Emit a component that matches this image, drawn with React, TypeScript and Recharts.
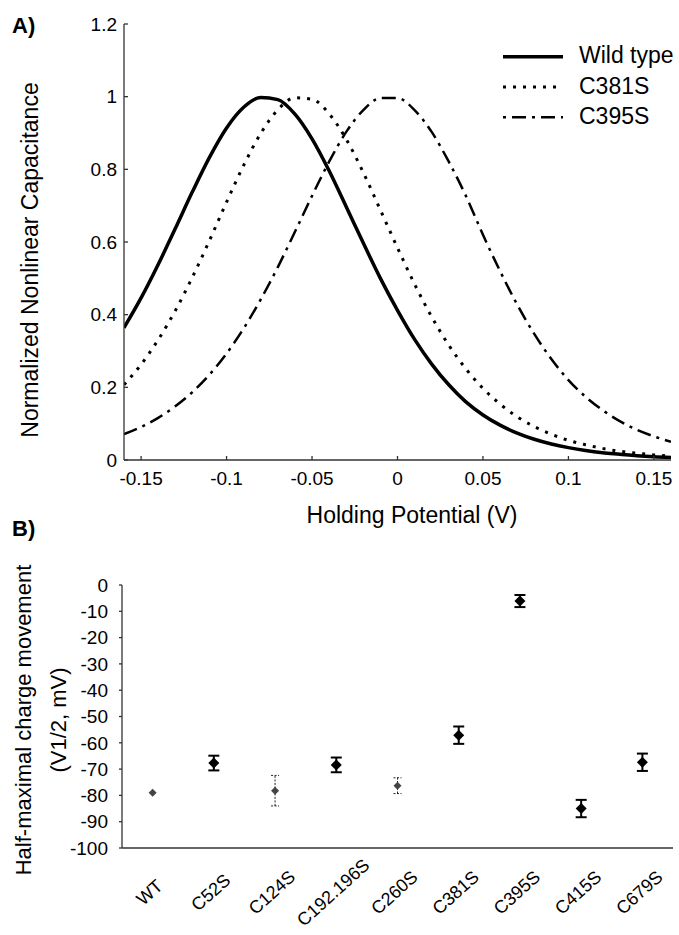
import React from 'react';
import { LineChart, Line, XAxis, YAxis, Legend, ScatterChart, Scatter, ErrorBar } from 'recharts';

const FONT = '"Liberation Sans", Arial, Helvetica, sans-serif';

// ---------- Panel A data ----------
const voltages = [
  -0.16, -0.15, -0.14, -0.13, -0.12, -0.11, -0.1, -0.09, -0.08, -0.07, -0.06,
  -0.05, -0.04, -0.03, -0.02, -0.01, 0, 0.01, 0.02, 0.03, 0.04, 0.05, 0.06,
  0.07, 0.08, 0.09, 0.1, 0.11, 0.12, 0.13, 0.14, 0.15, 0.16,
];
const wildType = [
  0.364, 0.446, 0.538, 0.637, 0.738, 0.833, 0.914, 0.971, 0.998, 0.992, 0.952,
  0.884, 0.796, 0.697, 0.597, 0.5, 0.412, 0.332, 0.264, 0.207, 0.16, 0.124, 0.096,
  0.074, 0.057, 0.044, 0.034, 0.026, 0.02, 0.016, 0.012, 0.009, 0.007,
];
const c381s = [
  0.207, 0.263, 0.331, 0.411, 0.503, 0.604, 0.71, 0.811, 0.899, 0.964, 0.997,
  0.993, 0.953, 0.883, 0.791, 0.688, 0.584, 0.484, 0.394, 0.316, 0.251, 0.197, 0.154,
  0.119, 0.092, 0.071, 0.054, 0.042, 0.032, 0.024, 0.019, 0.014, 0.011,
];
const c395s = [
  0.071, 0.091, 0.116, 0.148, 0.187, 0.235, 0.293, 0.362, 0.442, 0.531, 0.628,
  0.727, 0.821, 0.903, 0.963, 0.996, 0.996, 0.963, 0.903, 0.821, 0.727, 0.62, 0.52,
  0.428, 0.347, 0.278, 0.22, 0.174, 0.137, 0.107, 0.083, 0.065, 0.05,
];
const voltageTicks = [-0.15, -0.1, -0.05, 0, 0.05, 0.1, 0.15];
const capacitanceTicks = [0, 0.2, 0.4, 0.6, 0.8, 1, 1.2];

// ---------- Panel B data ----------
const mutants = ['WT', 'C52S', 'C124S', 'C192.196S', 'C260S', 'C381S', 'C395S', 'C415S', 'C679S'];
const halfActivation = [-79.0, -67.7, -78.2, -68.4, -76.3, -57.1, -6.1, -85.0, -67.4];
const halfActivationErr = [0, 2.8, 5.8, 2.8, 3.0, 3.3, 2.3, 3.3, 3.3];
const halfActivationTicks = [0, -10, -20, -30, -40, -50, -60, -70, -80, -90, -100];

// ---------- styles ----------
const curveSeries = [
  { key: 'wt', name: 'Wild type', width: 3.5, dash: undefined as string | undefined, legendOffset: 0 },
  { key: 'c381', name: 'C381S', width: 3, dash: '3 7', legendOffset: 0 },
  { key: 'c395', name: 'C395S', width: 2.5, dash: '14 6 3 6', legendOffset: 20 },
];
const LIGHT_MARKERS = new Set(['WT', 'C124S', 'C260S']);

const curveTable = voltages.map((v, i) => ({
  v,
  wt: wildType[i],
  c381: c381s[i],
  c395: c395s[i],
}));

const pointTable = mutants.map((name, i) => ({
  idx: i,
  name,
  value: halfActivation[i],
  errBold: LIGHT_MARKERS.has(name) ? 0 : halfActivationErr[i],
  errLight: LIGHT_MARKERS.has(name) ? halfActivationErr[i] : 0,
}));
const categoryTicks = mutants.map((_, i) => i);

// chart B svg starts at this page y
const B_TOP = 500;

const LegendBox = () => (
  <svg width={179} height={100} style={{ overflow: 'visible' }}>
    {curveSeries.map((s, i) => {
      const ly = 16.7 + i * 30.3;
      return (
        <g key={s.key}>
          <line
            x1={3}
            x2={63}
            y1={ly}
            y2={ly}
            stroke="#000"
            strokeWidth={s.width}
            strokeDasharray={s.dash}
            strokeDashoffset={s.legendOffset}
          />
          <text x={79} y={ly + 6.5} fontSize={23} fontFamily={FONT} fill="#000">
            {s.name}
          </text>
        </g>
      );
    })}
  </svg>
);

const AxisTitleAX = () => (
  <text x={412} y={523} textAnchor="middle" fontSize={23} fontFamily={FONT} fill="#000">
    Holding Potential (V)
  </text>
);

const AxisTitleAY = () => (
  <g>
    <text x={12} y={33} fontSize={22} fontWeight="bold" fontFamily={FONT} fill="#000">
      A)
    </text>
    <text
      x={38}
      y={260}
      transform="rotate(-90, 38, 260)"
      textAnchor="middle"
      fontSize={23}
      fontFamily={FONT}
      fill="#000"
    >
      Normalized Nonlinear Capacitance
    </text>
  </g>
);

const AxisTitleBY = () => {
  const cy = 720 - B_TOP;
  return (
    <g>
      <text x={12} y={536 - B_TOP} fontSize={22} fontWeight="bold" fontFamily={FONT} fill="#000">
        B)
      </text>
      <text
        x={31}
        y={cy}
        transform={`rotate(-90, 31, ${cy})`}
        textAnchor="middle"
        fontSize={22}
        fontFamily={FONT}
        fill="#000"
      >
        Half-maximal charge movement
      </text>
      <text
        x={66}
        y={cy}
        transform={`rotate(-90, 66, ${cy})`}
        textAnchor="middle"
        fontSize={22}
        fontFamily={FONT}
        fill="#000"
      >
        (V1/2, mV)
      </text>
    </g>
  );
};

const CategoryTick = (props: any) => {
  const { x, y, payload } = props;
  const label = mutants[payload.value];
  const ax = x + 1;
  const ay = y + 41;
  return (
    <text
      x={ax}
      y={ay}
      textAnchor="middle"
      fontSize={18}
      fontFamily={FONT}
      fill="#000"
      transform={`rotate(-42, ${ax}, ${ay})`}
    >
      {label}
    </text>
  );
};

const Diamond = (props: any) => {
  const { cx, cy, payload } = props;
  if (cx == null || cy == null) return null;
  const light = LIGHT_MARKERS.has(payload.name);
  const r = light ? 4 : 5.5;
  return (
    <path
      d={`M${cx},${cy - r}L${cx + r},${cy}L${cx},${cy + r}L${cx - r},${cy}Z`}
      fill={light ? '#444' : '#000'}
    />
  );
};

const axisStroke = { stroke: '#333', strokeWidth: 1.3 };
const tickFontA = { fontSize: 19, fill: '#000', fontFamily: FONT };
const tickFontB = { fontSize: 19, fill: '#000', fontFamily: FONT };

export default function App() {
  return (
    <div
      style={{
        position: 'absolute',
        left: 0,
        top: 0,
        width: 679,
        height: 935,
        background: '#fff',
        fontFamily: FONT,
        overflow: 'hidden',
      }}
    >
      <div style={{ position: 'absolute', left: 0, top: 0 }}>
        <LineChart width={679} height={500} data={curveTable} margin={{ top: 24, right: 8, bottom: 0, left: 0 }}>
          <XAxis
            type="number"
            dataKey="v"
            domain={[-0.16, 0.16]}
            ticks={voltageTicks}
            interval={0}
            height={40}
            tickSize={-4}
            tickMargin={16}
            tick={tickFontA}
            axisLine={axisStroke}
            tickLine={axisStroke}
            allowDataOverflow
          />
          <YAxis
            type="number"
            domain={[0, 1.2]}
            ticks={capacitanceTicks}
            interval={0}
            width={124}
            tickSize={-4}
            tickMargin={11}
            tick={tickFontA}
            axisLine={axisStroke}
            tickLine={axisStroke}
            allowDataOverflow
            label={AxisTitleAY}
          />
          <Legend
            layout="horizontal"
            verticalAlign="middle"
            align="center"
            wrapperStyle={{ position: 'absolute', left: 500, top: 40, width: 179, height: 100 }}
            content={() => <LegendBox />}
          />
          {curveSeries.map((s) => (
            <Line
              key={s.key}
              dataKey={s.key}
              name={s.name}
              type="monotone"
              stroke="#000"
              strokeWidth={s.width}
              strokeDasharray={s.dash}
              dot={false}
              activeDot={false}
              isAnimationActive={false}
            />
          ))}
        </LineChart>
      </div>
      <div style={{ position: 'absolute', left: 0, top: B_TOP }}>
        <ScatterChart width={679} height={935 - B_TOP} margin={{ top: 585 - B_TOP, right: 6, bottom: 0, left: 0 }}>
          <XAxis
            type="number"
            dataKey="idx"
            domain={[-0.5, 8.5]}
            ticks={categoryTicks}
            interval={0}
            height={87}
            tickLine={false}
            tick={<CategoryTick />}
            axisLine={axisStroke}
          />
          <YAxis
            type="number"
            dataKey="value"
            domain={[-100, 0]}
            ticks={halfActivationTicks}
            interval={0}
            width={122}
            tickSize={3}
            tickMargin={11}
            tick={tickFontB}
            axisLine={axisStroke}
            tickLine={axisStroke}
            allowDataOverflow
            label={AxisTitleBY}
          />
          <Scatter data={pointTable} dataKey="value" shape={Diamond} isAnimationActive={false}>
            <ErrorBar
              dataKey="errBold"
              direction="y"
              width={5.5}
              strokeWidth={2}
              stroke="#000"
              isAnimationActive={false}
            />
            <ErrorBar
              dataKey="errLight"
              direction="y"
              width={4}
              strokeWidth={1}
              stroke="#222"
              strokeDasharray="2 1.5"
              isAnimationActive={false}
            />
          </Scatter>
        </ScatterChart>
      </div>
      <svg
        width={679}
        height={40}
        style={{ position: 'absolute', left: 0, top: 495, overflow: 'visible' }}
      >
        <text x={412} y={28} textAnchor="middle" fontSize={23} fontFamily={FONT} fill="#000">
          Holding Potential (V)
        </text>
      </svg>
    </div>
  );
}
